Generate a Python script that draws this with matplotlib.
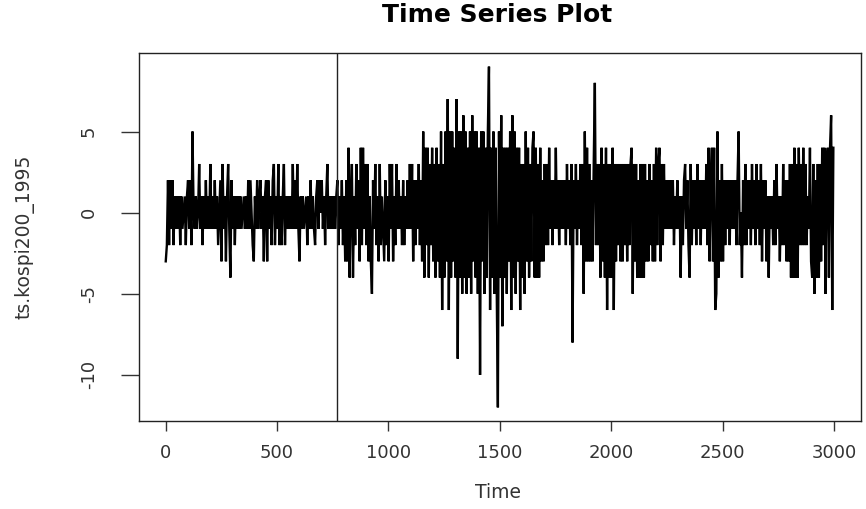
import numpy as np
import matplotlib.pyplot as plt

# 读图估计的序列 (每5个时间点取一个值)
kospi_a = [-3, -2, 2, -2, 2, -1, 2, -2, 1, -1,
           1, -1, 1, -2, 1, -1, 0, 1, -2, 1,
           2, -1, 2, -2, 5, 0, -1, 1, -1, 0,
           3, -1, 1, -2, 1, -1, 2, -1, 1, -1,
           3, -1, 1, -1, 2, -1, 1, -2, 0, 2,
           -3, 3, -1, 1, -3, 1, 3, -1, -4, 2,
           -1, 1, -2, 1, -1, 1, -1, 1, -1, 0,
           1, -1, 1, -1, 2, -1, 2, 0, -2, -3,
           1, -1, 2, -1, 1, 2, -1, 1, -3, 1,
           2, -3, 2, -1, 1, -2, 2, 3, -2, 1]
kospi_b = [-1, 3, -2, 1, -2, 1, 3, -2, 1, -1,
           1, -1, 1, -1, 3, -1, 2, -1, 3, -1,
           -3, 1, -1, 1, -1, 0, 1, -2, 1, -1,
           2, -1, 1, -1, -2, 1, 2, -1, 2, 0,
           2, -1, 1, -2, 1, 3, -1, 1, -1, 1,
           -1, 1, -1, 1, 2, -2, 1, -1, 2, -2,
           1, -3, 2, -3, 4, -4, 1, 3, -4, 1,
           -2, 3, -1, 2, -3, 4, -2, 4, -1, 3,
           -2, 3, -3, 1, -3, -5, 2, -1, 3, -2,
           1, -3, 3, -2, 1, -1, -3, 2, -2, 1]
kospi_c = [-3, 3, -1, 3, -3, 1, -2, 3, -1, 2,
           -1, 1, -2, 2, -2, 1, -1, 2, -1, 3,
           -1, 3, -3, 2, -2, 2, -1, 3, -2, 2,
           -3, 5, -4, 4, -2, 4, -4, 3, -2, 4,
           -3, 3, -4, 4, -3, 3, -4, 5, -6, 3,
           -4, 5, -3, 7, -6, 5, -4, 5, -3, 4,
           -4, 7, -9, 5, -4, 5, -5, 6, -4, 5,
           -5, 4, -4, 5, -5, 6, -3, 5, -4, 5,
           -5, 4, -10, 5, -3, 5, -5, 4, -4, 5,
           9, -6, 4, -4, 5, -5, 4, -5, -12, 5]
kospi_d = [-4, 6, -7, 4, -4, 4, -5, 4, -3, 5,
           -6, 6, -4, 5, -5, 4, -3, 4, -6, 3,
           -4, 3, -5, 5, -3, 4, -4, 3, -3, 4,
           5, -4, 4, -4, 3, -4, 4, -3, 2, -3,
           3, -2, 3, -2, 4, -1, 2, -2, 2, -1,
           4, -1, 2, -2, 2, -1, 2, -1, 2, -2,
           3, -1, 2, -2, 3, -8, 2, -1, 3, -2,
           2, -1, 3, -2, 3, -5, 5, -3, 4, -3,
           3, -3, 2, -3, 3, 8, -2, 3, -2, 3,
           -4, 4, -3, 3, -4, 4, -6, 3, -4, 3]
kospi_e = [-4, 4, -6, 3, -3, 3, -2, 3, -3, 3,
           -3, 3, -2, 3, -3, 3, -2, 3, 4, -5,
           3, -3, 3, -4, 2, -4, 3, -4, 3, -4,
           3, -3, 2, -3, 3, -2, 2, -3, 3, -3,
           4, -2, 3, 4, -3, 3, -2, 3, -1, 2,
           -1, 2, -1, 2, -1, 2, -2, 1, -1, 2,
           -1, 1, -4, 1, -2, 2, 3, -1, 2, -2,
           -4, 3, -2, 2, -1, 2, -2, 3, -1, 2,
           -2, 2, -1, 2, -1, 3, -2, 4, -3, 2,
           4, -3, 4, -6, -5, 5, -4, 2, -3, 3]
kospi_f = [-3, 2, -2, 2, -1, 2, -2, 2, -1, 2,
           -1, 2, -2, 2, 5, -2, 0, -4, 2, -2,
           3, -2, 2, -1, 2, -2, 3, -1, 2, -2,
           3, -1, 2, -2, 3, -3, 2, -1, 2, -3,
           1, -4, 1, -1, 1, -2, 2, -2, 3, -1,
           1, -3, 1, -2, 3, -2, 2, -3, 2, -3,
           3, -4, 3, -4, 4, -4, 3, -4, 4, -2,
           3, -2, 4, -2, 3, -2, 1, -1, 4, -3,
           -4, 3, -5, 2, -4, 3, -4, 3, -3, 4,
           -2, 4, -5, 3, 4, -4, 4, 6, -6, 4]

step = 5
break_time = 770
x_ticks = [0, 500, 1000, 1500, 2000, 2500, 3000]
y_ticks = [-10, -5, 0, 5]

series = np.array(kospi_a + kospi_b + kospi_c + kospi_d + kospi_e + kospi_f)
t = np.arange(len(series)) * step + 1

plt.rcParams['font.family'] = ['DejaVu Sans']
plt.rcParams['axes.unicode_minus'] = False

fig = plt.figure(figsize=(8.66, 5.09), dpi=100)
ax = fig.add_axes([139/866, 1-421/509, 722/866, 368/509])

ax.plot(t, series, color='black', linewidth=1.7, solid_joinstyle='miter')
ax.axvline(break_time, color='#222222', linewidth=1.0)

ax.set_xlim(-119, 3120)
ax.set_ylim(-12.84, 9.84)

ax.set_xticks(x_ticks)
ax.set_yticks(y_ticks)
ax.tick_params(axis='x', length=7.5, width=1, pad=9, labelsize=13, colors='#333333')
ax.tick_params(axis='y', length=13, width=1, pad=23, labelsize=13, colors='#333333')
for lab in ax.get_yticklabels():
    lab.set_rotation(90)
    lab.set_ha('center')
    lab.set_va('center')

for s in ax.spines.values():
    s.set_linewidth(1.0)
    s.set_color('#222222')

fig.text(497/866, 1-22/509, 'Time Series Plot', ha='center', va='baseline',
         fontsize=18, fontweight='bold')
fig.text(498/866, 1-492/509, 'Time', ha='center', va='center', fontsize=13.5, color='#333333')
fig.text(25/866, 1-237/509, 'ts.kospi200_1995', ha='center', va='center',
         rotation=90, fontsize=13.5, color='#333333')

fig.savefig('out.png', dpi=100)
